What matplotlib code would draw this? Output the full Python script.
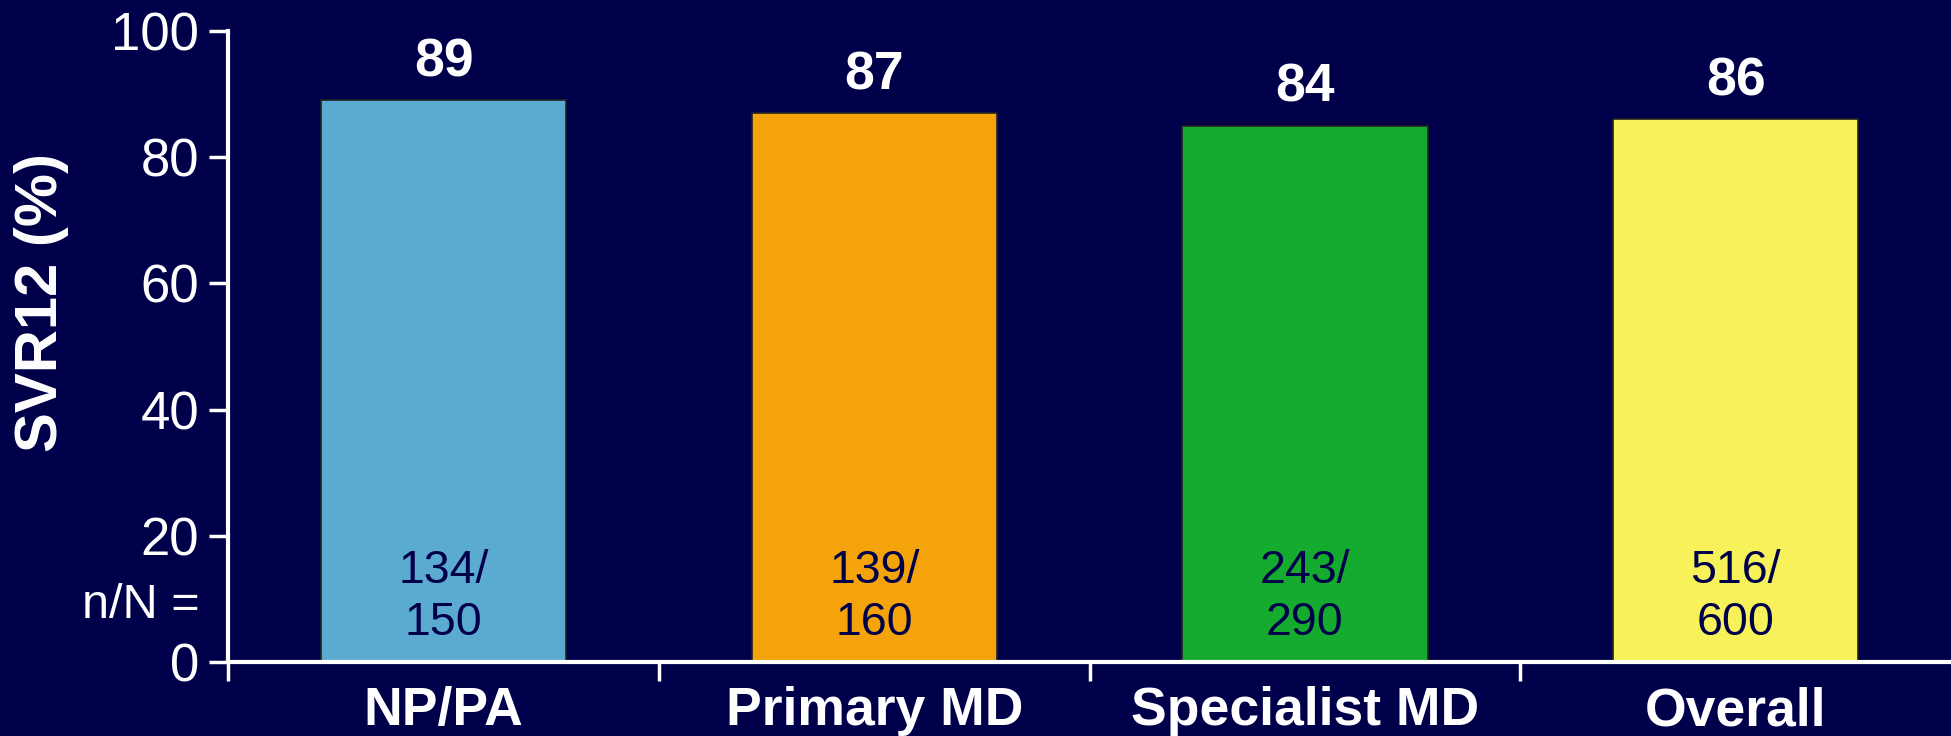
import matplotlib
matplotlib.use('Agg')
import matplotlib.pyplot as plt

plt.rcParams['font.family'] = ['Liberation Sans', 'DejaVu Sans']

BG = '#00004a'

groups = ['NP/PA', 'Primary MD', 'Specialist MD', 'Overall']
bar_height = [89, 87, 85, 86]
svr_label = ['89', '87', '84', '86']
n_resp = [134, 139, 243, 516]
n_total = [150, 160, 290, 600]
colors = ['#5baad0', '#f5a30a', '#14ab2e', '#f8f25a']

fig = plt.figure(figsize=(19.51, 7.36), dpi=100, facecolor=BG)
ax = fig.add_axes([0.117, 0.1005, 0.883, 0.8575])
ax.set_facecolor(BG)

x = list(range(len(groups)))
ax.bar(x, bar_height, width=0.57, color=colors, edgecolor='#222222', linewidth=1.2, zorder=2)

for xi, h, lab, n, N in zip(x, bar_height, svr_label, n_resp, n_total):
    ax.text(xi, h + 6.0, lab, ha='center', va='center', color='white',
            fontsize=38.5, fontweight='bold')
    ax.text(xi, 10.3, '%d/\n%d' % (n, N), ha='center', va='center', color='#00004a',
            fontsize=33.5, linespacing=1.25)

ax.text(-0.567, 8.9, 'n/N =', ha='right', va='center', color='white', fontsize=35, clip_on=False)

ax.set_xlim(-0.5, 3.5)
ax.set_ylim(0, 100)
ax.set_yticks([0, 20, 40, 60, 80, 100])
ax.set_xticks(x)
ax.set_xticklabels(groups, fontsize=38.5, fontweight='bold', color='white')
ax.set_xticks([-0.5, 0.5, 1.5, 2.5], minor=True)

ax.tick_params(axis='y', colors='white', labelsize=38, length=14, width=2.5, pad=7, direction='out')
ax.tick_params(axis='x', which='major', length=0, pad=17.5)
ax.tick_params(axis='x', which='minor', length=14, width=2.5, color='white', direction='out')

for s in ['top', 'right']:
    ax.spines[s].set_visible(False)
for s in ['left', 'bottom']:
    ax.spines[s].set_color('white')
    ax.spines[s].set_linewidth(3)

fig.text(42 / 1951, 1 - 302 / 736, 'SVR12 (%)', rotation=90, ha='center', va='center',
         color='white', fontsize=43, fontweight='bold')

fig.savefig('out.png', dpi=100, facecolor=BG)
